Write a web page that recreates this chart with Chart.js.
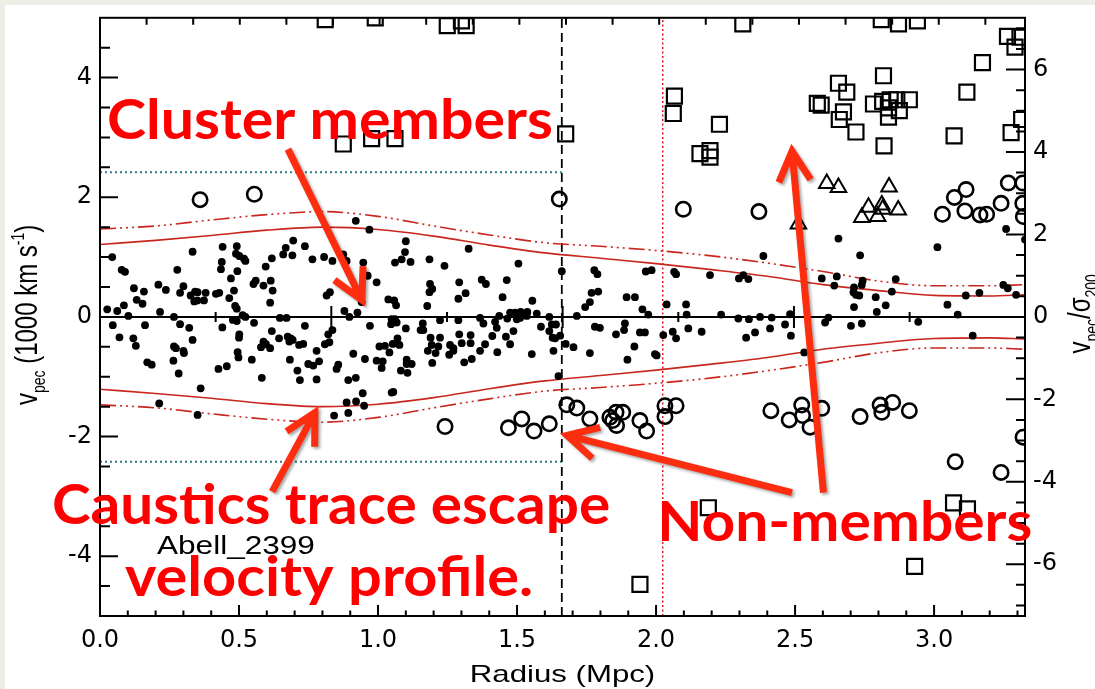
<!DOCTYPE html>
<html>
<head>
<meta charset="utf-8">
<title>Abell 2399 phase space</title>
<script src="https://cdn.jsdelivr.net/npm/chart.js@4.4.0/dist/chart.umd.min.js"></script>
<style>
  html, body { margin: 0; padding: 0; background: #eeede6; }
  #panel { position: absolute; left: 5px; top: 5px; width: 1090px; height: 684px; background: #fff; }
  canvas { display: block; }
</style>
</head>
<body>
<div id="panel"><canvas id="phaseChart" width="1090" height="684"></canvas></div>
<script>
// galaxies inside the caustics: [radius Mpc, v_pec in 1000 km/s]
const members = [
  [0.044,1.00],[0.078,0.787],[0.090,0.754],[0.122,0.479],[0.132,0.286],[0.153,0.220],[0.158,0.424],
  [0.026,0.127],[0.062,0.099],[0.086,0.193],[0.102,0.017],[0.210,0.539],[0.237,0.451],[0.216,0.083],
  [0.266,0.000],[0.278,0.787],[0.333,1.089],[0.288,0.402],[0.300,0.512],[0.326,0.358],[0.342,0.424],
  [0.351,0.413],[0.339,0.259],[0.350,0.275],[0.374,0.275],[0.380,0.402],[0.417,0.385],[0.429,0.402],
  [0.441,1.172],[0.438,0.919],[0.435,0.798],[0.492,1.183],[0.489,1.056],[0.501,1.018],[0.518,0.974],
  [0.523,0.935],[0.494,0.765],[0.471,0.644],[0.482,0.440],[0.465,0.314],[0.486,0.182],[0.492,0.138],
  [0.513,0.028],[0.523,0.000],[0.552,0.550],[0.560,0.605],[0.588,0.523],[0.614,0.605],[0.621,0.440],
  [0.612,0.237],[0.596,0.842],[0.618,0.979],[0.659,1.045],[0.668,1.155],[0.695,1.276],[0.692,1.029],
  [0.737,1.183],[0.764,0.963],[0.806,1.001],[0.836,0.935],[0.827,0.413],[0.815,0.358],[0.887,0.935],
  [0.875,1.045],[0.879,0.099],[0.897,0.000],[0.926,0.072],[0.947,0.908],[0.963,0.688],[0.995,0.578],
  [0.941,0.248],[0.920,1.606],[0.969,1.458],[1.037,0.292],[1.058,0.275],[1.065,0.193],[1.061,0.908],
  [1.085,0.963],[1.097,1.084],[1.100,1.265],
  [1.117,0.919],[1.185,0.963],[1.239,0.853],[1.326,1.139],[1.187,0.550],[1.195,0.468],[1.185,0.413],
  [1.292,0.578],[1.315,0.396],[1.289,0.303],[1.177,0.182],[1.373,0.622],[1.388,0.550],[1.463,0.616],
  [1.448,0.330],[1.505,0.891],[1.555,0.270],[1.475,0.072],[1.493,0.072],[1.513,0.083],[1.537,0.083],
  [1.571,0.055],[1.436,0.017],[1.616,0.000],[1.661,0.765],[1.715,0.017],[1.778,0.781],[1.789,0.715],
  [1.745,0.165],[1.762,0.248],[1.768,0.402],[1.792,0.424],[1.894,0.330],[1.924,0.330],[1.963,0.759],
  [1.984,0.781],[1.951,0.127],[1.972,0.039],[2.038,0.209],[2.065,0.754],[2.072,0.715],[2.108,0.209],
  [2.110,0.039],[2.194,0.699],
  [2.298,0.644],[2.332,0.633],[2.314,0.699],[2.386,1.018],[2.596,0.644],[2.650,0.677],[2.641,0.523],
  [2.656,1.309],[2.734,1.029],[2.710,0.413],[2.719,0.369],[2.731,0.358],[2.712,0.495],[2.743,0.605],
  [2.740,0.534],[2.712,0.165],[2.790,0.330],[2.826,0.193],[2.848,0.424],[2.862,0.633],[2.794,0.083],
  [3.012,1.166],[3.048,0.204],[3.085,0.039],[3.114,0.358],[3.163,0.402],[3.249,0.534],[3.265,0.479],
  [3.295,0.369],[3.259,1.469],[3.327,1.293],[2.234,0.039],[2.296,-0.027],[2.334,-0.038],[2.374,0.000],
  [2.416,-0.011],[2.482,0.044],[2.620,-0.011],
  [0.046,-0.138],[0.070,-0.341],[0.120,-0.358],[0.129,-0.484],[0.162,-0.138],[0.170,-0.759],[0.186,-0.798],
  [0.266,-0.495],[0.273,-0.523],[0.300,-0.567],[0.302,-0.605],[0.264,-0.732],[0.288,-0.121],[0.321,-0.182],
  [0.333,-0.385],[0.283,-0.946],[0.362,-1.194],[0.351,-1.639],[0.213,-1.447],[0.426,-0.869],[0.456,-0.825],
  [0.440,-0.176],[0.478,-0.050],[0.492,-0.070],[0.501,-0.292],[0.500,-0.347],[0.495,-0.589],[0.498,-0.677],
  [0.546,-0.715],[0.554,-0.099],[0.582,-1.018],[0.588,-0.413],[0.579,-0.506],[0.597,-0.457],[0.612,-0.523],
  [0.618,-0.237],[0.644,-0.358],[0.647,-0.017],[0.671,-0.017],[0.675,-0.330],[0.686,-0.358],[0.681,-0.413],
  [0.693,-0.385],[0.683,-0.715],[0.710,-0.897],[0.719,-1.056],[0.716,-0.468],[0.731,-0.451],[0.737,-0.149],
  [0.779,-0.567],[0.749,-0.787],[0.767,-0.814],[0.788,-0.743],[0.779,-1.045],[0.809,-0.457],[0.825,-0.424],
  [0.821,-0.292],[0.836,-0.220],[0.857,-0.798],[0.851,-0.869],[0.893,-1.056],[0.920,-1.018],[0.911,-0.616],
  [0.953,-0.704],[0.887,-1.430],[0.921,-1.414],[0.945,-1.276],[0.950,-1.485],[0.893,-1.606],[0.842,-1.650],
  [0.971,-0.149],[0.995,-0.732],[1.017,-0.743],[1.013,-0.853],[1.005,-0.495],[1.025,-0.484],[1.041,-0.594],
  [1.053,-0.451],[1.067,-0.440],[1.077,-0.468],[1.047,-0.121],[1.067,-0.094],[1.049,-0.039],[1.061,-0.039],
  [1.100,-0.193],[1.070,-0.358],[1.103,-0.715],[1.103,-0.787],[1.082,-0.897],[1.106,-0.935],[1.049,-1.265],
  [1.055,-1.254],
  [1.121,-0.787],[1.161,-0.110],[1.153,-0.220],[1.163,-0.220],[1.223,-0.055],[1.223,-0.347],[1.189,-0.347],
  [1.193,-0.468],[1.179,-0.567],[1.207,-0.605],[1.195,-0.770],[1.217,-0.495],[1.259,-0.468],[1.271,-0.523],
  [1.271,-0.567],[1.256,-0.633],[1.292,-0.292],[1.289,-0.055],[1.301,-0.440],[1.333,-0.303],[1.333,-0.440],
  [1.310,-0.759],[1.337,-0.704],[1.367,-0.017],[1.379,-0.110],[1.367,-0.567],[1.385,-0.457],[1.421,-0.083],
  [1.427,-0.182],[1.411,-0.319],[1.429,-0.589],[1.465,-0.028],[1.487,-0.237],[1.460,-0.330],[1.475,-0.457],
  [1.499,-0.039],[1.511,-0.017],[1.535,0.017],[1.553,-0.622],[1.586,-0.165],[1.625,-0.127],[1.640,-0.127],
  [1.616,-0.237],[1.628,-0.347],[1.637,-0.358],[1.655,-0.314],[1.631,-0.567],[1.649,-0.990],[1.675,-0.451],
  [1.703,-0.506],[1.780,-0.165],[1.798,-0.182],[1.762,-0.605],[1.856,-0.292],[1.888,-0.110],[1.885,-0.220],
  [1.922,-0.495],[1.897,-0.715],[1.942,-0.259],[1.960,-0.259],[1.996,-0.622],[2.002,-0.644],[2.026,-0.303],
  [2.060,-0.248],[2.072,-0.358],[2.164,-0.248],[2.116,-0.193],
  [2.324,-0.347],[2.356,-0.259],[2.410,-0.193],[2.464,-0.127],[2.485,-0.314],[2.533,-0.594],[2.608,-0.094],
  [2.701,-0.149],[2.740,-0.110],[2.943,-0.083],[3.139,-0.314]
];

// interlopers just outside the caustics
const nearOutliers = [
  [0.360,1.96],[0.555,2.05],[1.652,1.97],[2.098,1.80],[2.370,1.76],[3.030,1.716],[3.073,1.997],
  [3.115,2.129],[3.111,1.771],[3.165,1.705],[3.189,1.716],[3.241,1.898],[3.267,2.239],[3.319,2.239],
  [3.319,1.898],[3.321,1.678],
  [1.241,-1.832],[1.469,-1.854],[1.517,-1.705],[1.561,-1.909],[1.616,-1.788],[1.679,-1.469],[1.715,-1.524],
  [1.762,-1.705],[1.834,-1.678],[1.856,-1.595],[1.880,-1.595],[1.858,-1.815],[1.844,-1.733],[1.942,-1.733],
  [1.966,-1.909],[2.032,-1.485],[2.072,-1.485],[2.032,-1.667],[2.413,-1.568],[2.479,-1.722],[2.524,-1.474],
  [2.527,-1.650],[2.554,-1.843],[2.596,-1.529],[2.734,-1.667],[2.806,-1.474],[2.812,-1.595],[2.851,-1.430],
  [2.911,-1.568],[3.076,-2.42],[3.241,-2.60],[3.320,-2.01]
];

// background / foreground galaxies far from the cluster
const farOutliers = [
  [0.810,4.97],[0.990,5.00],[1.249,4.87],[1.300,4.95],[1.317,4.87],[0.875,2.89],[0.977,2.98],[1.061,2.98],
  [1.675,3.06],[2.066,3.69],[2.062,3.40],[2.228,3.22],[2.158,2.73],[2.194,2.78],[2.194,2.67],[2.312,4.90],
  [2.810,4.97],[2.872,4.90],[2.940,4.95],[2.656,3.906],[2.686,3.757],[2.580,3.57],[2.594,3.54],[2.674,3.427],
  [2.659,3.300],[2.719,3.091],[2.818,4.031],[2.782,3.559],[2.815,3.603],[2.836,3.493],[2.842,3.630],
  [2.866,3.630],[2.875,3.449],[2.911,3.630],[2.836,3.339],[2.820,2.860],[3.072,3.025],[3.118,3.757],
  [3.174,4.252],[3.264,4.691],[3.291,4.510],[3.309,4.675],[3.277,3.081],[3.315,3.300],
  [2.188,-3.19],[1.942,-4.47],[3.07,-3.11],[3.12,-3.21],[2.93,-4.17]
];

// background group
const groupGals = [
  [2.614,2.228],[2.656,2.162],[2.512,1.551],[2.838,2.173],[2.764,1.832],[2.812,1.870],[2.815,1.799],
  [2.871,1.788],[2.740,1.661],[2.797,1.678]
];

// caustic amplitude (escape velocity) profile
const causticR     = [0, 0.2, 0.4, 0.6, 0.8, 1.0, 1.2, 1.4, 1.6, 1.8, 2.0, 2.2, 2.4, 2.6, 2.8, 3.0, 3.2, 3.327];
const causticInner = [1.21, 1.28, 1.36, 1.45, 1.50, 1.46, 1.35, 1.20, 1.07, 0.98, 0.89, 0.79, 0.68, 0.54, 0.44, 0.36, 0.35, 0.37];
const causticOuter = [1.47, 1.52, 1.62, 1.71, 1.76, 1.68, 1.52, 1.37, 1.24, 1.18, 1.11, 1.02, 0.90, 0.76, 0.60, 0.52, 0.52, 0.54];

const xTickVals   = [0, 0.5, 1.0, 1.5, 2.0, 2.5, 3.0];
const yTickVals   = [-4, -2, 0, 2, 4];
const sigTickVals = [-6, -4, -2, 0, 2, 4, 6];

const R_MAX = 3.327;
const V_MAX = 5;
const SIG_SCALE = 1.451;     // (v/sigma200) per 1000 km/s
const R_SPLASH = 1.661;      // dashed vertical
const R_200 = 2.024;         // dotted vertical
const V_CUT = 2.42;          // dotted horizontals
const TOP_STEP = 0.1676;     // top-axis tick spacing
const ZERO_STEP = 0.416;     // ticks along v = 0

const pts = arr => arr.map(([x, y]) => ({ x, y }));
const curve = (vals, sign) => causticR.map((r, i) => ({ x: r, y: sign * vals[i] }));

const RED = '#c9261d';
const lineSet = (data, color, width, dash) => ({
  type: 'line', data, borderColor: color, borderWidth: width, borderDash: dash || [],
  pointRadius: 0, fill: false, order: 2, clip: 0
});
const causticSet = (vals, sign, dash) => ({
  ...lineSet(curve(vals, sign), RED, 1.6, dash), cubicInterpolationMode: 'monotone'
});

const DASH_DOT3 = [16, 4, 2, 4, 2, 4, 2, 4];

// red annotation text, positioned in data units
const notes = [
  { text: 'Cluster members',       r0: 0.025,  r1: 1.629, v: 2.97 },
  { text: 'Caustics trace escape', r0: -0.173, r1: 1.835, v: -3.465 },
  { text: 'velocity profile.',     r0: 0.090,  r1: 1.558, v: -4.67 },
  { text: 'Non-members',           r0: 2.004,  r1: 3.353, v: -3.746 }
];
// arrows: [tail r, tail v, tip r, tip v]
const arrows = [
  [0.676, 2.805, 0.942, 0.281],
  [0.619, -2.921, 0.773, -1.601],
  [2.489, -2.937, 1.680, -1.980],
  [2.602, -2.937, 2.489, 2.772]
];

const HELV = '"Liberation Sans", Arial, Helvetica, sans-serif';

function fitText(ctx, text, x0, x1, yb, font, color) {
  ctx.save();
  ctx.font = font;
  const w = ctx.measureText(text).width;
  ctx.translate(x0, yb);
  ctx.scale((x1 - x0) / w, 1);
  ctx.fillStyle = color;
  ctx.textBaseline = 'alphabetic';
  ctx.textAlign = 'left';
  ctx.fillText(text, 0, 0);
  ctx.restore();
}

// rotated axis label made of pieces (for subscripts / superscripts)
function rotatedLabel(ctx, pieces, cx, cy, stretch) {
  ctx.save();
  ctx.translate(cx, cy);
  ctx.rotate(-Math.PI / 2);
  ctx.scale(1, stretch);
  let total = 0;
  pieces.forEach(p => {
    ctx.font = p.size + 'px ' + HELV;
    p.w = ctx.measureText(p.t).width;
    total += p.w;
  });
  let x = -total / 2;
  ctx.fillStyle = '#000';
  ctx.textBaseline = 'alphabetic';
  pieces.forEach(p => {
    ctx.font = p.size + 'px ' + HELV;
    ctx.fillText(p.t, x, p.dy || 0);
    x += p.w;
  });
  ctx.restore();
}

function arrow(ctx, x0, y0, x1, y1) {
  const ang = Math.atan2(y1 - y0, x1 - x0);
  const head = 34, spread = 28 * Math.PI / 180;
  ctx.save();
  ctx.strokeStyle = '#fd2e10';
  ctx.lineWidth = 7;
  ctx.lineJoin = 'miter';
  ctx.shadowColor = 'rgba(0,0,0,0.35)';
  ctx.shadowBlur = 3;
  ctx.shadowOffsetX = 2;
  ctx.shadowOffsetY = 2;
  ctx.beginPath();
  ctx.moveTo(x0, y0);
  ctx.lineTo(x1, y1);
  ctx.moveTo(x1 - head * Math.cos(ang - spread), y1 - head * Math.sin(ang - spread));
  ctx.lineTo(x1, y1);
  ctx.lineTo(x1 - head * Math.cos(ang + spread), y1 - head * Math.sin(ang + spread));
  ctx.stroke();
  ctx.restore();
}

// box, inward ticks and the tick row along v = 0
const frameTicks = {
  id: 'frameTicks',
  afterDatasetsDraw(chart) {
    const { ctx, chartArea: a, scales: { x, y, y2 } } = chart;
    ctx.save();
    ctx.strokeStyle = '#000';
    ctx.lineWidth = 2;
    ctx.beginPath();
    for (let i = -9; i <= 9; i++) {
      const py = y.getPixelForValue(i * 0.5);
      const len = i % 4 === 0 ? 18 : 10;
      ctx.moveTo(a.left, py); ctx.lineTo(a.left + len, py);
    }
    for (let i = -14; i <= 14; i++) {
      const py = y2.getPixelForValue(i * 0.5);
      const len = i % 4 === 0 ? 19 : 9;
      ctx.moveTo(a.right, py); ctx.lineTo(a.right - len, py);
    }
    for (let i = 1; i * 0.1 < R_MAX; i++) {
      const px = x.getPixelForValue(i * 0.1);
      const len = i % 5 === 0 ? 11 : 5.5;
      ctx.moveTo(px, a.bottom); ctx.lineTo(px, a.bottom - len);
    }
    for (let i = 1; i * TOP_STEP < R_MAX; i++) {
      const px = x.getPixelForValue(i * TOP_STEP);
      ctx.moveTo(px, a.top); ctx.lineTo(px, a.top + 7);
    }
    const y0 = y.getPixelForValue(0);
    for (let i = 1; i * ZERO_STEP < R_MAX; i++) {
      const px = x.getPixelForValue(i * ZERO_STEP);
      const len = i % 2 === 0 ? 11 : 5;
      ctx.moveTo(px, y0 - len); ctx.lineTo(px, y0 + len);
    }
    ctx.stroke();
    ctx.strokeRect(a.left, a.top, a.right - a.left, a.bottom - a.top);
    ctx.restore();
  },
  afterDraw(chart) {
    const { ctx, chartArea: a, scales: { x, y } } = chart;
    const midY = (a.top + a.bottom) / 2;

    // axis titles
    ctx.save();
    ctx.font = '24px ' + HELV;
    ctx.fillStyle = '#000';
    ctx.textAlign = 'center';
    ctx.translate((a.left + a.right) / 2, 677);
    ctx.scale(1.3, 1);
    ctx.fillText('Radius (Mpc)', 0, 0);
    ctx.restore();

    rotatedLabel(ctx, [
      { t: 'v', size: 24 }, { t: 'pec', size: 14, dy: 6 },
      { t: ' (1000 km s', size: 24 }, { t: '-1', size: 14, dy: -10 }, { t: ')', size: 24 }
    ], 32, midY - 2, 1.3);
    rotatedLabel(ctx, [
      { t: 'v', size: 24 }, { t: 'pec', size: 14, dy: 6 },
      { t: '/σ', size: 24 }, { t: '200', size: 14, dy: 6 }
    ], 1085, midY - 3, 1.3);

    fitText(ctx, 'Abell_2399', x.getPixelForValue(0.205), x.getPixelForValue(0.773),
      y.getPixelForValue(-3.96), '25px ' + HELV, '#000');

    arrows.forEach(([r0, v0, r1, v1]) =>
      arrow(ctx, x.getPixelForValue(r0), y.getPixelForValue(v0), x.getPixelForValue(r1), y.getPixelForValue(v1)));

    notes.forEach(n => fitText(ctx, n.text, x.getPixelForValue(n.r0), x.getPixelForValue(n.r1),
      y.getPixelForValue(n.v), 'bold 55px Lato, "Open Sans", sans-serif', '#ff0000'));
  }
};

const tickFont = { family: '"DejaVu Sans", sans-serif', size: 24 };

new Chart(document.getElementById('phaseChart'), {
  type: 'scatter',
  data: {
    datasets: [
      { data: pts(members), pointStyle: 'circle', pointRadius: 3.9, borderWidth: 0,
        backgroundColor: '#000', order: 0, clip: 0 },
      { data: pts(nearOutliers), pointStyle: 'circle', pointRadius: 7.2, borderWidth: 2.6,
        borderColor: '#000', backgroundColor: 'rgba(0,0,0,0)', order: 0, clip: 0 },
      { data: pts(farOutliers), pointStyle: 'rect', pointRadius: 10.6, borderWidth: 2.2,
        borderColor: '#000', backgroundColor: 'rgba(0,0,0,0)', order: 0, clip: 0 },
      { data: pts(groupGals), pointStyle: 'triangle', pointRadius: 9, borderWidth: 2,
        borderColor: '#000', backgroundColor: 'rgba(0,0,0,0)', order: 0, clip: 0 },
      causticSet(causticInner, 1),
      causticSet(causticInner, -1),
      causticSet(causticOuter, 1, DASH_DOT3),
      causticSet(causticOuter, -1, DASH_DOT3),
      lineSet([{ x: 0, y: 0 }, { x: R_MAX, y: 0 }], '#000', 2),
      lineSet([{ x: R_SPLASH, y: -V_MAX }, { x: R_SPLASH, y: V_MAX }], '#000', 1.8, [9, 5]),
      lineSet([{ x: R_200, y: -V_MAX }, { x: R_200, y: V_MAX }], '#e0161c', 1.5, [2, 2.5]),
      lineSet([{ x: 0, y: V_CUT }, { x: R_SPLASH, y: V_CUT }], '#2f7d86', 2, [2, 3]),
      lineSet([{ x: 0, y: -V_CUT }, { x: R_SPLASH, y: -V_CUT }], '#2f7d86', 2, [2, 3])
    ]
  },
  options: {
    responsive: false,
    animation: false,
    events: [],
    layout: { padding: { top: 7.7, left: 0, right: 0, bottom: 0 } },
    plugins: { legend: { display: false }, tooltip: { enabled: false } },
    scales: {
      x: {
        type: 'linear', min: 0, max: R_MAX,
        grid: { display: false, drawTicks: false }, border: { display: false },
        afterBuildTicks: s => { s.ticks = xTickVals.map(v => ({ value: v })); },
        ticks: { autoSkip: false, maxRotation: 0, padding: 10, color: '#000', font: tickFont,
          callback: v => Number(v).toFixed(1) },
        afterFit: s => { s.height = 73; s.paddingLeft = 0; s.paddingRight = 0; }
      },
      y: {
        type: 'linear', position: 'left', min: -V_MAX, max: V_MAX,
        grid: { display: false, drawTicks: false }, border: { display: false },
        afterBuildTicks: s => { s.ticks = yTickVals.map(v => ({ value: v })); },
        ticks: { autoSkip: false, padding: 8, color: '#000', font: tickFont, callback: v => String(v) },
        afterFit: s => { s.width = 95; s.paddingTop = 0; s.paddingBottom = 0; }
      },
      y2: {
        type: 'linear', position: 'right', min: -V_MAX * SIG_SCALE, max: V_MAX * SIG_SCALE,
        grid: { display: false, drawTicks: false }, border: { display: false },
        afterBuildTicks: s => { s.ticks = sigTickVals.map(v => ({ value: v })); },
        ticks: { autoSkip: false, padding: 8, color: '#000', font: tickFont, callback: v => String(v) },
        afterFit: s => { s.width = 70; s.paddingTop = 0; s.paddingBottom = 0; }
      }
    }
  },
  plugins: [frameTicks]
});
</script>
</body>
</html>
